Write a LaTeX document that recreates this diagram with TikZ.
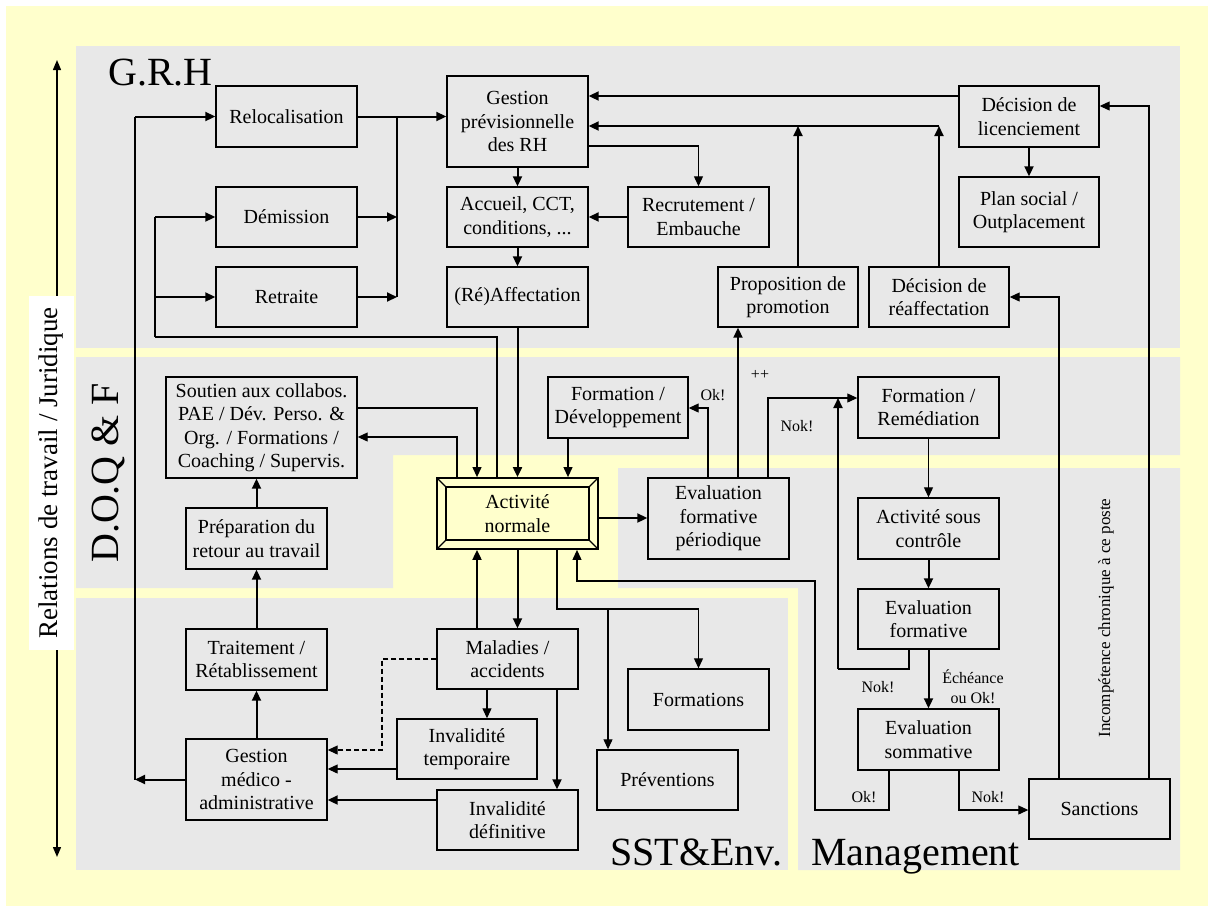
\documentclass[tikz,border=0pt]{standalone}
\usepackage{fontspec}
\setmainfont{Liberation Serif}
\usetikzlibrary{arrows.meta,calc}
\definecolor{bgyellow}{HTML}{FFFFCC}
\definecolor{regiongray}{HTML}{E8E8E8}
\begin{document}
\begin{tikzpicture}[x=1pt,y=-1pt,
  box/.style={draw,line width=1.4pt,fill=regiongray,inner sep=0pt,align=center,font=\fontsize{20}{23.5}\selectfont},
  thk/.style={line width=2pt},
  thn/.style={line width=1.1pt},
  arr/.style={-{Triangle[length=10pt,width=9pt]}},
  lbl/.style={font=\fontsize{16}{20}\selectfont,inner sep=0pt,align=center},
  big/.style={font=\fontsize{40}{44}\selectfont,inner sep=0pt}
]
\useasboundingbox (0,0) rectangle (1208,906);
\fill[white] (0,0) rectangle (1208,906);
\fill[bgyellow] (6,6) rectangle (1208,906);
% regions
\fill[regiongray] (76,46) rectangle (1180,348);
\fill[regiongray] (76,357) -- (1180,357) -- (1180,455) -- (393,455) -- (393,588) -- (76,588) -- cycle;
\fill[regiongray] (618,468) -- (1180,468) -- (1180,870) -- (798,870) -- (798,588) -- (618,588) -- cycle;
\fill[regiongray] (76,598) rectangle (788,870);
% region labels
\node[big,anchor=base west] (lgrh) at (108,85) {G.R.H};
\node[big,anchor=base west,rotate=90] (ldoq) at (118,563) {D.O.Q \& F};
\node[big,anchor=base west] (lsst) at (610,865) {SST\&Env.};
\node[big,anchor=base west] (lman) at (811,865) {Management};
% axis
\coordinate (axTop) at (57,60);
\coordinate (axBot) at (57,857);
\draw[line width=1.4pt,{Triangle[length=10pt,width=8pt]}-{Triangle[length=10pt,width=8pt]}] (axTop) -- (axBot);
\node[rotate=90,fill=white,minimum width=354pt,minimum height=45pt,inner sep=0pt,font=\fontsize{27}{30}\selectfont] (rel) at (51.5,473) {Relations de travail / Juridique};
% GRH nodes
\node[box,minimum width=141pt,minimum height=61pt] (reloc) at (286.5,116.5) {Relocalisation};
\node[box,minimum width=141pt,minimum height=60pt] (demis) at (286.5,217) {Démission};
\node[box,minimum width=141pt,minimum height=60pt] (retr) at (286.5,297) {Retraite};
\node[box,minimum width=141pt,minimum height=91pt] (gpr) at (517.5,121.5) {Gestion\\prévisionnelle\\des RH};
\node[box,minimum width=141pt,minimum height=60pt] (accu) at (517.5,217) {Accueil, CCT,\\conditions, ...};
\node[box,minimum width=141pt,minimum height=60pt] (recr) at (698.5,217) {Recrutement /\\Embauche};
\node[box,minimum width=141pt,minimum height=60pt] (aff) at (517.5,297) {(Ré)Affectation};
\node[box,minimum width=140pt,minimum height=60pt] (prom) at (788,297) {Proposition de\\promotion};
\node[box,minimum width=140pt,minimum height=60pt] (reaff) at (939,297) {Décision de\\réaffectation};
\node[box,minimum width=140pt,minimum height=61pt] (lic) at (1029,116.5) {Décision de\\licenciement};
\node[box,minimum width=140pt,minimum height=70pt] (plan) at (1029,212) {Plan social /\\Outplacement};
% DOQF nodes
\node[box,minimum width=191pt,minimum height=101pt] (sout) at (261.5,427.5) {Soutien aux collabos.\\PAE / Dév. Perso. \&\\Org. / Formations /\\Coaching / Supervis.};
\node[box,minimum width=141pt,minimum height=61pt] (prep) at (256.5,538.5) {Préparation du\\retour au travail};
\node[box,minimum width=140pt,minimum height=61pt] (fdev) at (618,407.5) {Formation /\\Développement};
\node[box,fill=bgyellow,line width=1.8pt,minimum width=161pt,minimum height=71pt] (act) at (517.5,513.5) {Activité\\normale};
\draw[line width=1.2pt] (446,487) rectangle (589,540);
\draw[line width=1.2pt] (437,478) -- (446,487) (598,478) -- (589,487) (437,549) -- (446,540) (598,549) -- (589,540);
\node[box,minimum width=141pt,minimum height=81pt] (evp) at (718.5,518.5) {Evaluation\\formative\\périodique};
\node[box,minimum width=141pt,minimum height=61pt] (frem) at (928.5,407.5) {Formation /\\Remédiation};
% Management nodes
\node[box,minimum width=141pt,minimum height=61pt] (asc) at (928.5,528.5) {Activité sous\\contrôle};
\node[box,minimum width=141pt,minimum height=60pt] (evf) at (928.5,619) {Evaluation\\formative};
\node[box,minimum width=141pt,minimum height=61pt] (evs) at (928.5,739.5) {Evaluation\\sommative};
\node[box,minimum width=141pt,minimum height=60pt] (sanc) at (1099.5,809) {Sanctions};
% SST nodes
\node[box,minimum width=141pt,minimum height=61pt] (trait) at (256.5,659.5) {Traitement /\\Rétablissement};
\node[box,minimum width=141pt,minimum height=81pt] (gma) at (256.5,779.5) {Gestion\\médico -\\administrative};
\node[box,minimum width=141pt,minimum height=60pt] (mal) at (507.5,659) {Maladies /\\accidents};
\node[box,minimum width=140pt,minimum height=60pt] (invt) at (467,749) {Invalidité\\temporaire};
\node[box,minimum width=141pt,minimum height=60pt] (invd) at (507.5,820) {Invalidité\\définitive};
\node[box,minimum width=141pt,minimum height=61pt] (forms) at (698.5,699.5) {Formations};
\node[box,minimum width=141pt,minimum height=60pt] (prev) at (667.5,780) {Préventions};
% small labels
\node[lbl] (lok1) at (713,395) {Ok!};
\node[lbl] (lpp) at (760,375) {++};
\node[lbl] (lnok1) at (797,426) {Nok!};
\node[lbl] (lnok2) at (878,687) {Nok!};
\node[lbl] (lech) at (973,687) {Échéance\\ou Ok!};
\node[lbl] (lok2) at (864,797) {Ok!};
\node[lbl] (lnok3) at (988,797) {Nok!};
\node[rotate=90,inner sep=0pt,font=\fontsize{17}{20}\selectfont] (linc) at (1106,618) {Incompétence chronique à ce poste};
% connectors: left loop
\coordinate (cL1) at (135,779.5);
\draw[thk,arr] (gma.west) -- (cL1);
\draw[thn] (cL1) -- (cL1 |- reloc.west);
\draw[thk,arr] (cL1 |- reloc.west) -- (reloc.west);
\draw[thk,arr] (reloc.east) -- (reloc.east -| gpr.west);
\coordinate (cM) at (397,116.5);
\draw[thk,arr] (demis.east) -- (demis.east -| cM);
\draw[thk,arr] (retr.east) -- (retr.east -| cM);
\draw[thk] (cM) -- (cM |- retr.east);
\coordinate (cA1) at (497,337);
\coordinate (cA2) at (155,337);
\draw[thn] (act.north -| cA1) -- (cA1) -- (cA2);
\draw[thk] (cA2) -- (cA2 |- demis.west);
\draw[thk,arr] (cA2 |- demis.west) -- (demis.west);
\draw[thk,arr] (cA2 |- retr.west) -- (retr.west);
% GRH
\draw[thk,arr] (gpr.south) -- (accu.north);
\coordinate (cG1) at (588,146);
\draw[thn,arr] (gpr.east |- cG1) -- (cG1 -| recr.north) -- (recr.north);
\draw[thk,arr] (recr.west) -- (accu.east);
\draw[thk,arr] (accu.south) -- (aff.north);
\draw[thk,arr] (aff.south) -- (act.north);
\coordinate (cY96) at (0,96);
\draw[thk,arr] (lic.west |- cY96) -- (gpr.east |- cY96);
\coordinate (cY126) at (939,126);
\coordinate (cPx) at (798,0);
\draw[thk,arr] (prom.north -| cPx) -- (cPx |- cY126);
\draw[thk,arr] (reaff.north) -- (reaff.north |- cY126);
\draw[thk,arr] (reaff.north |- cY126) -- (gpr.east |- cY126);
\draw[thk,arr] (lic.south) -- (plan.north);
\coordinate (cS1) at (1149,106);
\draw[thn,arr] (sanc.north -| cS1) -- (cS1) -- (cS1 -| lic.east);
\coordinate (cS2) at (1059,297);
\draw[thn,arr] (sanc.north -| cS2) -- (cS2) -- (reaff.east);
% DOQF
\coordinate (cU1) at (477,408);
\draw[thn,arr] (sout.east |- cU1) -- (cU1) -- (cU1 |- act.north);
\coordinate (cU2) at (457,437);
\draw[thn,arr] (act.north -| cU2) -- (cU2) -- (cU2 -| sout.east);
\draw[thk,arr] (prep.north) -- (prep.north |- sout.south);
\draw[thk,arr] (trait.north) -- (prep.south);
\draw[thk,arr] (gma.north) -- (trait.south);
\coordinate (cF1) at (568,0);
\draw[thn,arr] (fdev.south -| cF1) -- (act.north -| cF1);
\coordinate (cE1) at (708,408);
\draw[thn,arr] (evp.north -| cE1) -- (cE1) -- (fdev.east |- cE1);
\coordinate (cE2) at (738,0);
\draw[thk,arr] (evp.north -| cE2) -- (prom.south -| cE2);
\coordinate (cE3) at (768,398);
\draw[thn,arr] (evp.north -| cE3) -- (cE3) -- (frem.west |- cE3);
\coordinate (cN1) at (909,669);
\coordinate (cN2) at (838,669);
\draw[thn] (evf.south -| cN1) -- (cN1) -- (cN2);
\draw[thk,arr] (cN2) -- (cN2 |- cE3);
\coordinate (cE4) at (0,518);
\draw[thk,arr] (act.east |- cE4) -- (evp.west |- cE4);
% Management
\draw[thn,arr] (frem.south) -- (asc.north);
\draw[thk,arr] (asc.south) -- (evf.north);
\draw[thk,arr] (evf.south) -- (evs.north);
\coordinate (cO1) at (889,810);
\coordinate (cO2) at (815,810);
\coordinate (cO3) at (815,581);
\coordinate (cO4) at (577,581);
\draw[thn,arr] (evs.south -| cO1) -- (cO1) -- (cO2) -- (cO3) -- (cO4) -- (act.south -| cO4);
\coordinate (cO5) at (959,810);
\draw[thn,arr] (evs.south -| cO5) -- (cO5) -- (sanc.west |- cO5);
% SST
\coordinate (cT1) at (477,0);
\draw[thk,arr] (mal.north -| cT1) -- (act.south -| cT1);
\draw[thk,arr] (act.south) -- (act.south |- mal.north);
\coordinate (cT2) at (557,609);
\coordinate (cT3) at (698.5,609);
\coordinate (cT4) at (608,609);
\draw[thn] (act.south -| cT2) -- (cT2) -- (cT3);
\draw[thn,arr] (cT3) -- (forms.north);
\draw[thn,arr] (cT4) -- (cT4 |- prev.north);
\coordinate (cD1) at (382,659);
\coordinate (cD2) at (382,750);
\draw[thn,dash pattern=on 5pt off 3pt,arr] (mal.west) -- (cD1) -- (cD2) -- (gma.east |- cD2);
\coordinate (cT5) at (487,0);
\draw[thn,arr] (mal.south -| cT5) -- (invt.north -| cT5);
\coordinate (cT6) at (557,0);
\draw[thk,arr] (mal.south -| cT6) -- (invd.north -| cT6);
\coordinate (cY769) at (0,769);
\draw[thn,arr] (invt.west |- cY769) -- (gma.east |- cY769);
\coordinate (cY800) at (0,800);
\draw[thk,arr] (invd.west |- cY800) -- (gma.east |- cY800);
\end{tikzpicture}
\end{document}
